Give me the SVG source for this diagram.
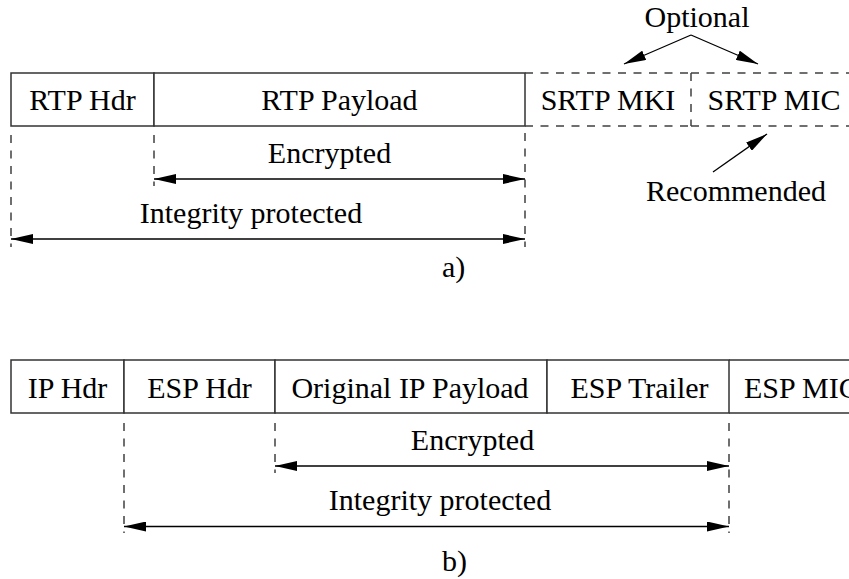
<svg xmlns="http://www.w3.org/2000/svg" width="849" height="579" viewBox="0 0 849 579">
  <style>
    text { font-family: "Liberation Serif", "Times New Roman", serif; font-size: 30px; fill: #000; }
    .mid { text-anchor: middle; }
    .cell { fill: #fff; stroke: #333; stroke-width: 1.5; }
    .solid { stroke: #333; stroke-width: 1.5; fill: none; }
    .dash { stroke: #404040; stroke-width: 1.5; stroke-dasharray: 8 7.5; fill: none; }
    .arrow { stroke: #000; stroke-width: 1.3; fill: none; marker-start: url(#head); marker-end: url(#head); }
    .pointer { stroke: #000; stroke-width: 1.3; fill: none; marker-end: url(#head); }
  </style>
  <defs>
    <marker id="head" markerUnits="userSpaceOnUse" markerWidth="22" markerHeight="10" refX="22" refY="5" orient="auto-start-reverse">
      <path d="M0,0 L22,5 L0,10 z" fill="#000"/>
    </marker>
  </defs>

  <rect width="849" height="579" fill="#fff"/>

  <!-- a) SRTP packet -->
  <g id="rtp-hdr">
    <rect class="cell" x="11" y="73" width="143" height="53"/>
    <text class="mid" x="82.5" y="110">RTP Hdr</text>
  </g>
  <g id="rtp-payload">
    <rect class="cell" x="154" y="73" width="371" height="53"/>
    <text class="mid" x="339.5" y="110">RTP Payload</text>
  </g>
  <g id="srtp-mki">
    <path class="dash" d="M525,73 H691 M525,126 H691"/>
    <text class="mid" x="608" y="110">SRTP MKI</text>
  </g>
  <g id="srtp-mic">
    <path class="dash" d="M691,73 H849 M691,126 H849 M691,73 V126"/>
    <text class="mid" x="774" y="110">SRTP MIC</text>
  </g>
  <g id="optional-label">
    <text class="mid" x="697" y="27">Optional</text>
  </g>
  <g id="recommended-label">
    <text class="mid" x="736" y="201">Recommended</text>
  </g>
  <g id="a-caption">
    <text x="442" y="277">a)</text>
  </g>
  <g id="a-encrypted">
    <text class="mid" x="329.5" y="163">Encrypted</text>
  </g>
  <g id="a-integrity">
    <text class="mid" x="251" y="223">Integrity protected</text>
  </g>

  <!-- b) ESP packet -->
  <g id="ip-hdr">
    <rect class="cell" x="11" y="360" width="113" height="53"/>
    <text class="mid" x="67.5" y="398">IP Hdr</text>
  </g>
  <g id="esp-hdr">
    <rect class="cell" x="124" y="360" width="151" height="53"/>
    <text class="mid" x="199.5" y="398">ESP Hdr</text>
  </g>
  <g id="ip-payload">
    <rect class="cell" x="275" y="360" width="272" height="53"/>
    <text class="mid" x="410" y="398">Original IP Payload</text>
  </g>
  <g id="esp-trailer">
    <rect class="cell" x="547" y="360" width="182" height="53"/>
    <text class="mid" x="639.5" y="398">ESP Trailer</text>
  </g>
  <g id="esp-mic">
    <path class="solid" d="M729,360 H849 M729,413 H849"/>
    <text x="744" y="398">ESP MIC</text>
  </g>
  <g id="b-caption">
    <text x="442" y="571">b)</text>
  </g>
  <g id="b-encrypted">
    <text class="mid" x="472.5" y="450">Encrypted</text>
  </g>
  <g id="b-integrity">
    <text class="mid" x="440" y="510">Integrity protected</text>
  </g>

  <g id="connectors">
    <!-- extent guides, a) -->
    <path class="dash" d="M11,135 V247 M154,135 V186 M525,133 V247"/>
    <!-- span arrows, a) -->
    <path class="arrow" d="M154,179 H525"/>
    <path class="arrow" d="M11,239 H525"/>
    <!-- Optional / Recommended pointers -->
    <path class="pointer" d="M691,35 L624,64"/>
    <path class="pointer" d="M691,35 L758,64"/>
    <path class="pointer" d="M713,172 L767,134"/>
    <!-- extent guides, b) -->
    <path class="dash" d="M124,423 V533 M275,423 V473 M729,423 V533"/>
    <!-- span arrows, b) -->
    <path class="arrow" d="M275,466 H729"/>
    <path class="arrow" d="M124,526.5 H729"/>
  </g>
</svg>
